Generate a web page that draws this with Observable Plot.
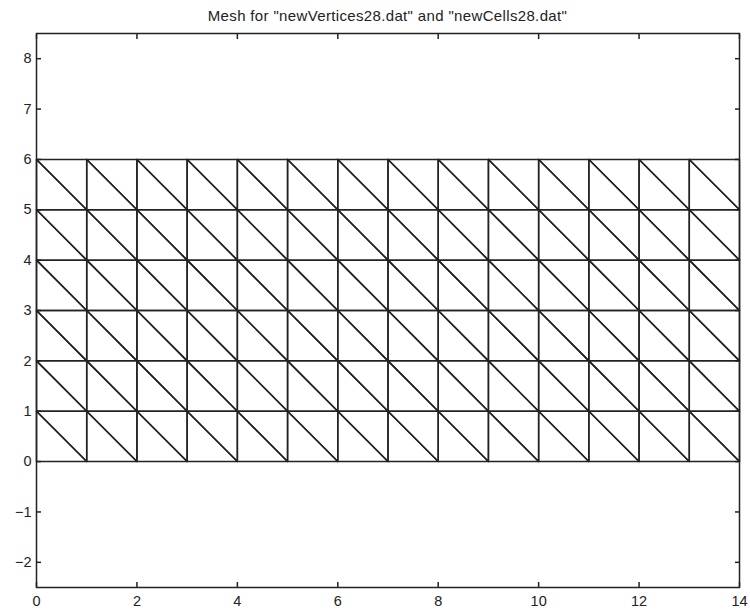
<!DOCTYPE html>
<html>
<head>
<meta charset="utf-8">
<script src="https://cdn.jsdelivr.net/npm/d3@7"></script>
<script src="https://cdn.jsdelivr.net/npm/@observablehq/plot@0.6"></script>
<style>
  html, body { margin: 0; padding: 0; background: #fff; }
  #title { box-sizing: border-box; width: 750px; height: 26px; padding: 8px 11px 0 36px;
           font: 15px "Liberation Sans", Arial, sans-serif; letter-spacing: 0.35px; color: #222; text-align: center; line-height: 15px; }
</style>
</head>
<body>
<div id="title"></div>
<div id="chart"></div>
<script>
const titleText = 'Mesh for "newVertices28.dat" and "newCells28.dat"';
const xNodes = [0, 1, 2, 3, 4, 5, 6, 7, 8, 9, 10, 11, 12, 13, 14];
const yNodes = [0, 1, 2, 3, 4, 5, 6];
const xTicks = [0, 2, 4, 6, 8, 10, 12, 14];
const yTicks = [-2, -1, 0, 1, 2, 3, 4, 5, 6, 7, 8];
const xDomain = [0, 14];
const yDomain = [-2.5, 8.5];

document.getElementById("title").textContent = titleText;

// Build triangle cells (each square split along the top-left → bottom-right diagonal)
const pts = [];
let cell = 0;
for (let i = 0; i < xNodes.length - 1; i++) {
  for (let j = 0; j < yNodes.length - 1; j++) {
    const x0 = xNodes[i], x1 = xNodes[i + 1], y0 = yNodes[j], y1 = yNodes[j + 1];
    const triA = [[x0, y0], [x1, y0], [x0, y1], [x0, y0]];
    const triB = [[x1, y0], [x1, y1], [x0, y1], [x1, y0]];
    for (const tri of [triA, triB]) {
      for (const [x, y] of tri) pts.push({x, y, cell});
      cell++;
    }
  }
}

const ink = "#222";
const fmt = d3.format("d");
const noText = () => "";
const chart = Plot.plot({
  width: 750,
  height: 586,
  marginLeft: 36,
  marginRight: 11,
  marginTop: 7,
  marginBottom: 25,
  style: {fontFamily: '"Liberation Sans", Arial, sans-serif', fontSize: "14.5px", color: ink, background: "#fff", overflow: "visible"},
  x: {domain: xDomain},
  y: {domain: yDomain},
  marks: [
    Plot.line(pts, {x: "x", y: "y", z: "cell", stroke: ink, strokeWidth: 1.5}),
    Plot.frame({stroke: ink, strokeWidth: 1.5}),
    Plot.axisX(xTicks, {anchor: "bottom", tickSize: 0, tickPadding: 8, fill: ink, tickFormat: fmt, label: null}),
    Plot.axisX(xTicks, {anchor: "bottom", tickSize: -5, strokeWidth: 1.5, stroke: ink, tickFormat: noText, label: null}),
    Plot.axisX(xTicks, {anchor: "top", tickSize: -5, strokeWidth: 1.5, stroke: ink, tickFormat: noText, label: null}),
    Plot.axisY(yTicks, {anchor: "left", tickSize: 0, tickPadding: 5, fill: ink, tickFormat: fmt, label: null}),
    Plot.axisY(yTicks, {anchor: "left", tickSize: -5, strokeWidth: 1.5, stroke: ink, tickFormat: noText, label: null}),
    Plot.axisY(yTicks, {anchor: "right", tickSize: -5, strokeWidth: 1.5, stroke: ink, tickFormat: noText, label: null})
  ]
});
document.getElementById("chart").appendChild(chart);
</script>
</body>
</html>
